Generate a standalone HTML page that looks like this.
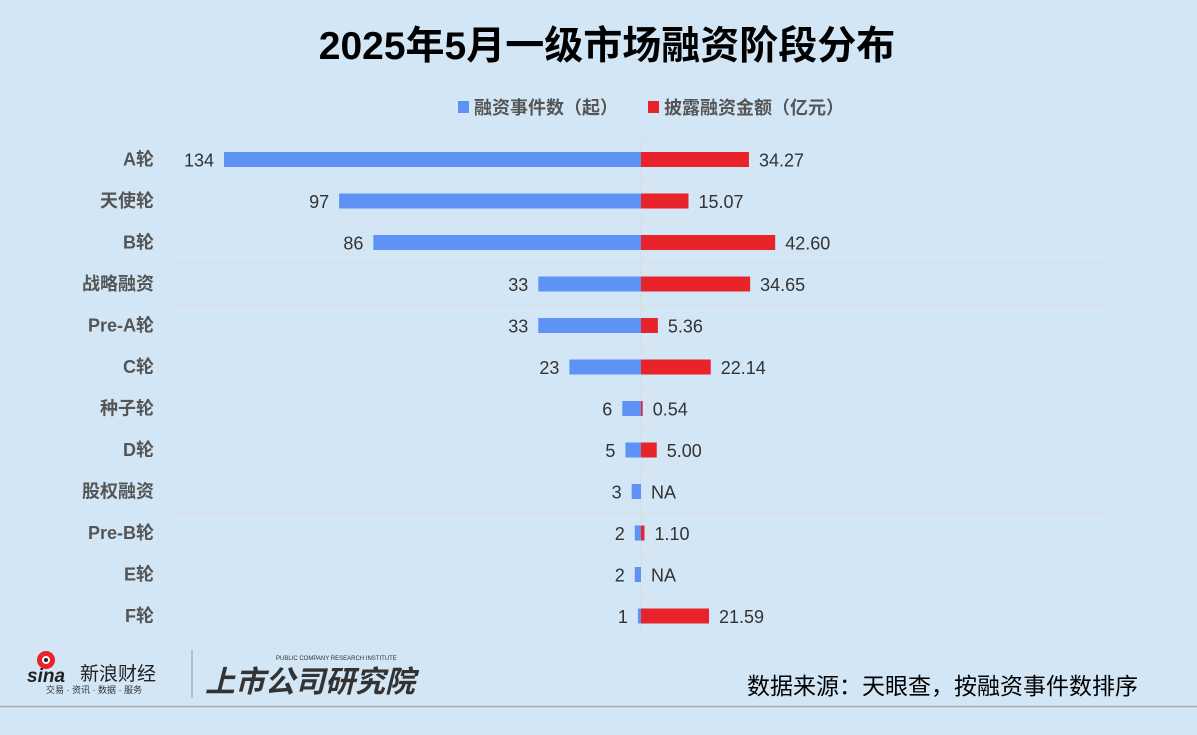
<!DOCTYPE html><html><head><meta charset="utf-8"><style>
body{margin:0;background:#d2e6f5;}
svg{display:block;font-family:"Liberation Sans","Noto Sans CJK SC",sans-serif;}
</style></head><body>
<svg width="1197" height="735" viewBox="0 0 1197 735">
<rect width="1197" height="735" fill="#d2e6f5"/>
<text x="607" y="59" text-anchor="middle" font-size="39" font-weight="bold" fill="#000">2025年5月一级市场融资阶段分布</text>
<rect x="458" y="101" width="11" height="12" fill="#5f92f5"/>
<text x="474" y="114" font-size="18" font-weight="bold" fill="#555">融资事件数（起）</text>
<rect x="648" y="101" width="11" height="12" fill="#e8232a"/>
<text x="664" y="114" font-size="18" font-weight="bold" fill="#555">披露融资金额（亿元）</text>
<g stroke="#e0dcdc" stroke-width="1">
<line x1="172" x2="1110" y1="138.5" y2="138.5"/><line x1="172" x2="1110" y1="180.5" y2="180.5"/><line x1="172" x2="1110" y1="221.5" y2="221.5"/><line x1="172" x2="1110" y1="263.5" y2="263.5"/><line x1="172" x2="1110" y1="304.5" y2="304.5"/><line x1="172" x2="1110" y1="346.5" y2="346.5"/><line x1="172" x2="1110" y1="387.5" y2="387.5"/><line x1="172" x2="1110" y1="429.5" y2="429.5"/><line x1="172" x2="1110" y1="470.5" y2="470.5"/><line x1="172" x2="1110" y1="512.5" y2="512.5"/><line x1="172" x2="1110" y1="553.5" y2="553.5"/><line x1="172" x2="1110" y1="595.5" y2="595.5"/><line x1="172" x2="1110" y1="636.5" y2="636.5"/>
<line x1="641" x2="641" y1="138" y2="636"/>
</g>
<g font-size="18" fill="#333" id="rows"></g>
<line x1="0" x2="1197" y1="706.5" y2="706.5" stroke="#aaa" stroke-width="1.5"/>
<circle cx="46" cy="660" r="9" fill="#e8232a"/><circle cx="46" cy="660" r="4" fill="#fff"/><circle cx="46" cy="660" r="2" fill="#222"/>
<text x="27" y="682" font-size="19" font-weight="bold" font-style="italic" fill="#222">sina</text>
<text x="80" y="680" font-size="19" fill="#222">新浪财经</text>
<text x="46" y="693" font-size="9" fill="#333">交易 · 资讯 · 数据 · 服务</text>
<line x1="192" x2="192" y1="650" y2="698" stroke="#999"/>
<text x="276" y="660" font-size="6" fill="#333">PUBLIC COMPANY RESEARCH INSTITUTE</text>
<text x="205" y="692" font-size="30" font-weight="bold" font-style="italic" fill="#333">上市公司研究院</text>
<text x="1138" y="694" text-anchor="end" font-size="23" fill="#000">数据来源：天眼查，按融资事件数排序</text>
</svg>
<script>
var d=[["A轮",134,34.27],["天使轮",97,15.07],["B轮",86,42.60],["战略融资",33,34.65],["Pre-A轮",33,5.36],["C轮",23,22.14],["种子轮",6,0.54],["D轮",5,5.00],["股权融资",3,null],["Pre-B轮",2,1.10],["E轮",2,null],["F轮",1,21.59]];
var g=document.getElementById('rows'),h='';
d.forEach(function(r,i){var cy=159.5+i*41.5,bw=r[1]*3.112,rw=r[2]==null?0:r[2]*3.15;
h+='<text x="154" y="'+(cy+6)+'" text-anchor="end" font-weight="bold" fill="#555">'+r[0]+'</text>';
h+='<rect x="'+(641-bw)+'" y="'+(cy-7.5)+'" width="'+bw+'" height="15" fill="#5f92f5"/>';
h+='<text x="'+(641-bw-10)+'" y="'+(cy+7)+'" text-anchor="end">'+r[1]+'</text>';
if(rw)h+='<rect x="641" y="'+(cy-7.5)+'" width="'+rw+'" height="15" fill="#e8232a"/>';
h+='<text x="'+(641+rw+10)+'" y="'+(cy+7)+'">'+(r[2]==null?'NA':r[2].toFixed(2))+'</text>';});
g.innerHTML=h;
</script>
</body></html>
